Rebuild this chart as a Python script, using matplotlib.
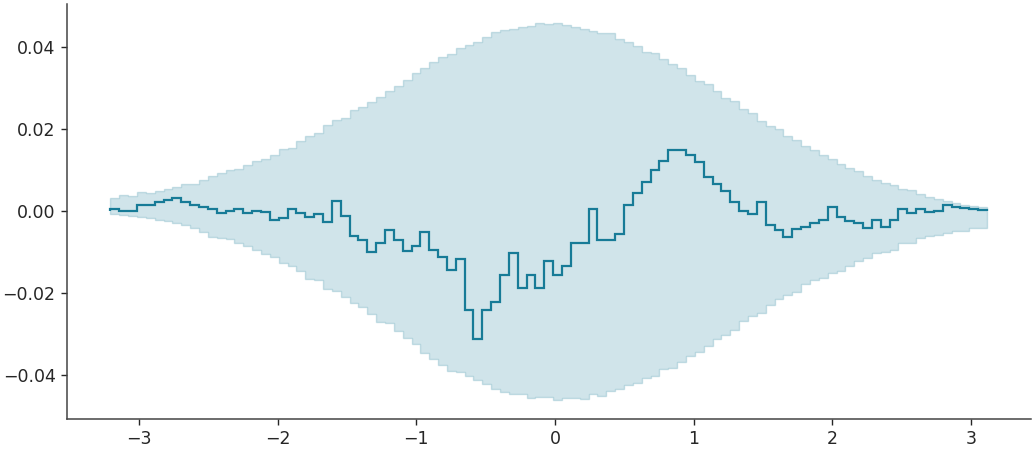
import numpy as np
import matplotlib.pyplot as plt

# bin range on x (99 equal bins)
x_start = -3.206
x_end = 3.117

mean = [
    0.0005, 0.0002, 0.0000, 0.0017, 0.0015, 0.0023, 0.0028, 0.0032, 0.0024, 0.0017,
    0.0011, 0.0007, -0.0003, 0.0002, 0.0005, -0.0003, 0.0002, -0.0002, -0.0022, -0.0015,
    0.0007, -0.0004, -0.0014, -0.0007, -0.0025, 0.0025, -0.0010, -0.0061, -0.0070, -0.0099,
    -0.0078, -0.0044, -0.0070, -0.0096, -0.0083, -0.0049, -0.0094, -0.0110, -0.0143, -0.0117,
    -0.0241, -0.0312, -0.0241, -0.0220, -0.0154, -0.0102, -0.0187, -0.0156, -0.0187, -0.0122,
    -0.0156, -0.0132, -0.0076, -0.0077, 0.0005, -0.0070, -0.0070, -0.0056, 0.0017, 0.0046,
    0.0073, 0.0100, 0.0124, 0.0149, 0.0151, 0.0137, 0.0120, 0.0083, 0.0067, 0.0049,
    0.0022, 0.0002, -0.0007, 0.0023, -0.0032, -0.0046, -0.0063, -0.0042, -0.0037, -0.0029,
    -0.0021, 0.0011, -0.0014, -0.0024, -0.0028, -0.0041, -0.0021, -0.0038, -0.0021, 0.0006,
    -0.0004, 0.0005, -0.0002, 0.0002, 0.0015, 0.0012, 0.0008, 0.0006, 0.0004,
]

upper = [
    0.0033, 0.0041, 0.0038, 0.0048, 0.0044, 0.0050, 0.0055, 0.0060, 0.0066, 0.0068,
    0.0077, 0.0087, 0.0094, 0.0102, 0.0104, 0.0114, 0.0124, 0.0127, 0.0138, 0.0153,
    0.0155, 0.0172, 0.0185, 0.0192, 0.0211, 0.0224, 0.0228, 0.0247, 0.0255, 0.0268,
    0.0280, 0.0293, 0.0307, 0.0321, 0.0337, 0.0350, 0.0364, 0.0377, 0.0385, 0.0398,
    0.0407, 0.0414, 0.0425, 0.0437, 0.0442, 0.0446, 0.0450, 0.0452, 0.0460, 0.0457,
    0.0460, 0.0454, 0.0450, 0.0445, 0.0441, 0.0436, 0.0436, 0.0421, 0.0413, 0.0403,
    0.0389, 0.0387, 0.0373, 0.0359, 0.0351, 0.0334, 0.0319, 0.0312, 0.0293, 0.0276,
    0.0269, 0.0250, 0.0240, 0.0221, 0.0208, 0.0202, 0.0184, 0.0174, 0.0159, 0.0150,
    0.0138, 0.0127, 0.0116, 0.0106, 0.0098, 0.0086, 0.0077, 0.0070, 0.0064, 0.0054,
    0.0053, 0.0043, 0.0036, 0.0030, 0.0026, 0.0020, 0.0017, 0.0014, 0.0011,
]

lower = [
    -0.0005, -0.0008, -0.0011, -0.0013, -0.0015, -0.0020, -0.0024, -0.0028, -0.0033, -0.0041,
    -0.0050, -0.0062, -0.0064, -0.0068, -0.0076, -0.0085, -0.0095, -0.0103, -0.0110, -0.0125,
    -0.0132, -0.0144, -0.0164, -0.0168, -0.0189, -0.0194, -0.0209, -0.0223, -0.0233, -0.0249,
    -0.0270, -0.0273, -0.0292, -0.0308, -0.0324, -0.0345, -0.0359, -0.0374, -0.0388, -0.0392,
    -0.0402, -0.0412, -0.0420, -0.0432, -0.0441, -0.0446, -0.0445, -0.0455, -0.0452, -0.0452,
    -0.0459, -0.0454, -0.0454, -0.0457, -0.0446, -0.0449, -0.0438, -0.0434, -0.0424, -0.0418,
    -0.0407, -0.0402, -0.0383, -0.0381, -0.0368, -0.0353, -0.0342, -0.0329, -0.0312, -0.0301,
    -0.0288, -0.0268, -0.0255, -0.0247, -0.0228, -0.0214, -0.0203, -0.0196, -0.0178, -0.0168,
    -0.0162, -0.0150, -0.0145, -0.0132, -0.0121, -0.0113, -0.0101, -0.0098, -0.0093, -0.0078,
    -0.0078, -0.0065, -0.0060, -0.0058, -0.0052, -0.0048, -0.0048, -0.0040, -0.0040,
]

color = '#177b97'

edges = np.linspace(x_start, x_end, len(mean) + 1)
lo = np.append(lower, lower[-1])
hi = np.append(upper, upper[-1])

fig = plt.figure(figsize=(10.35, 4.5), dpi=100)
ax = fig.add_axes([0.0644, 0.07, 0.9316, 0.921])

ax.fill_between(edges, lo, hi, step='post', color=color, alpha=0.2, linewidth=1)
ax.stairs(mean, edges, color=color, linewidth=1.6)

ax.set_xticks([-3, -2, -1, 0, 1, 2, 3])
ax.set_yticks([-0.04, -0.02, 0.0, 0.02, 0.04])
ax.tick_params(labelsize=12.5, colors='#262626', length=4.5, width=1)
for s in ['top', 'right']:
    ax.spines[s].set_visible(False)
for s in ['left', 'bottom']:
    ax.spines[s].set_color('#444444')
    ax.spines[s].set_linewidth(1.1)

plt.savefig('out.png', dpi=100)
plt.close()
